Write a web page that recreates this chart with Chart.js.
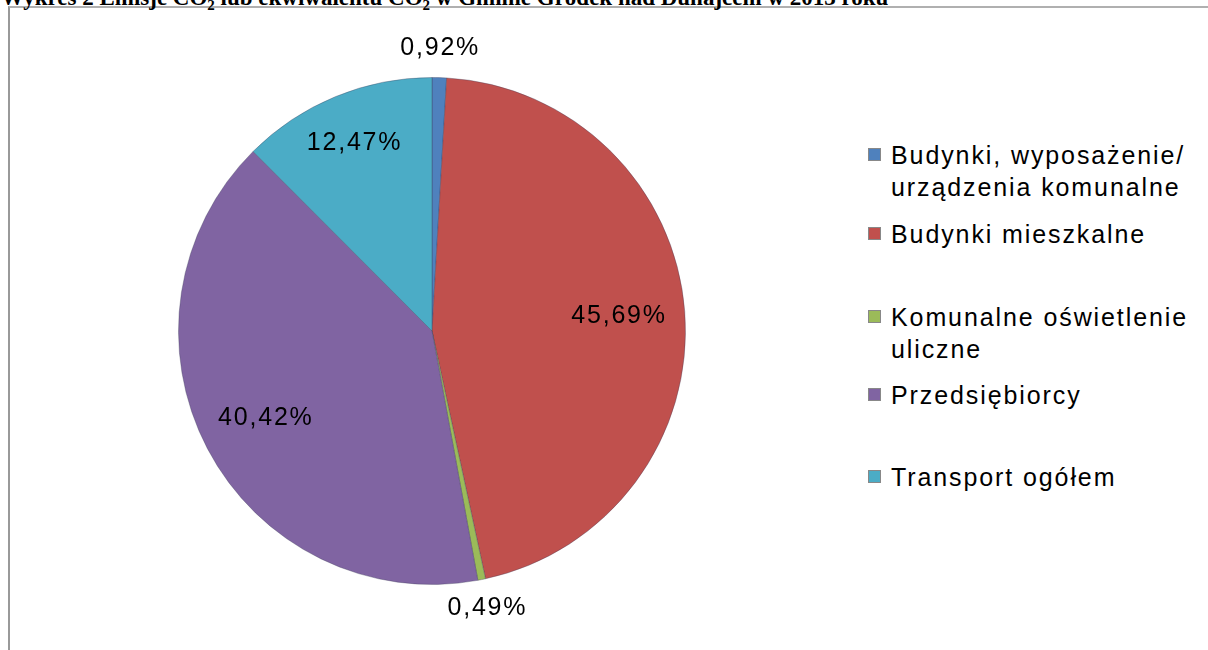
<!DOCTYPE html>
<html>
<head>
<meta charset="utf-8">
<script src="https://cdn.jsdelivr.net/npm/chart.js@4/dist/chart.umd.min.js"></script>
<style>
  body { margin: 0; background: #fff; width: 1208px; height: 650px; overflow: hidden; position: relative; }
  #title { position: absolute; left: 1px; top: -14px; font: bold 23px "Liberation Serif", "DejaVu Serif", serif; line-height: 23px; color: #000; white-space: nowrap; }
  #title sub { font-size: 15px; line-height: 0; vertical-align: -0.3em; }
  #frame { position: absolute; left: 8px; top: 6px; width: 1210px; height: 660px; border-top: 2px solid #b0b0b0; border-left: 2px solid #999; background: #fff; }
  #wrap { position: absolute; left: 132px; top: 31px; width: 600px; height: 600px; }
  #legend { position: absolute; left: 0; top: 0; font: 25px "Liberation Sans", Arial, sans-serif; color: #000; }
  .item { position: absolute; left: 891px; line-height: 32px; white-space: nowrap; letter-spacing: 1.9px; }
  .sq { position: absolute; left: -23px; top: 9px; width: 11px; height: 11px; border: 1px solid #888; box-sizing: content-box; }
</style>
</head>
<body>
<div id="frame"></div>
<div id="title">Wykres 2 Emisje CO<sub>2</sub> lub ekwiwalentu CO<sub>2</sub> w Gminie Gródek nad Dunajcem w 2013 roku</div>
<div id="wrap"><canvas id="pie"></canvas></div>
<div id="legend"></div>
<script>
// Emisje CO2 wg sektorów (%)
var categories = [
  ["Budynki, wyposażenie/", "urządzenia komunalne"],
  ["Budynki mieszkalne"],
  ["Komunalne oświetlenie", "uliczne"],
  ["Przedsiębiorcy"],
  ["Transport ogółem"]
];
var shares = [0.92, 45.69, 0.49, 40.42, 12.47];
var shareLabels = ["0,92%", "45,69%", "0,49%", "40,42%", "12,47%"];
var colors = ["#4f81bd", "#c0504d", "#9bbb59", "#8064a2", "#4bacc6"];
var legendTops = [139, 218, 301, 379, 461];

// percentage labels: small slices outside, big ones inside
var sliceLabels = {
  id: 'sliceLabels',
  afterDatasetsDraw: function (chart) {
    var ctx = chart.ctx;
    var meta = chart.getDatasetMeta(0);
    ctx.save();
    ctx.font = '25px "Liberation Sans", Arial, sans-serif';
    ctx.letterSpacing = '1.8px';
    ctx.fillStyle = '#000';
    ctx.textAlign = 'center';
    ctx.textBaseline = 'middle';
    meta.data.forEach(function (arc, i) {
      var p = arc.getProps(['x', 'y', 'startAngle', 'endAngle', 'outerRadius'], true);
      var mid = (p.startAngle + p.endAngle) / 2;
      var f = shares[i] < 2 ? 1.115 : (i === 4 ? 0.8 : 0.74);
      var r = p.outerRadius * f;
      ctx.fillText(shareLabels[i], p.x + Math.cos(mid) * r, p.y + Math.sin(mid) * r);
    });
    ctx.restore();
  }
};

new Chart(document.getElementById('pie'), {
  type: 'pie',
  data: {
    labels: categories.map(function (c) { return c.join(' '); }),
    datasets: [{
      data: shares,
      backgroundColor: colors,
      borderColor: 'rgba(60,60,90,0.35)',
      borderWidth: 1
    }]
  },
  options: {
    responsive: true,
    maintainAspectRatio: false,
    animation: false,
    layout: { padding: 46 },
    plugins: {
      legend: { display: false },
      tooltip: { enabled: false }
    }
  },
  plugins: [sliceLabels]
});

// legend on the right
var legend = document.getElementById('legend');
categories.forEach(function (lines, i) {
  var div = document.createElement('div');
  div.className = 'item';
  div.style.top = legendTops[i] + 'px';
  var sq = document.createElement('span');
  sq.className = 'sq';
  sq.style.background = colors[i];
  div.appendChild(sq);
  div.appendChild(document.createTextNode(lines[0]));
  for (var k = 1; k < lines.length; k++) {
    div.appendChild(document.createElement('br'));
    div.appendChild(document.createTextNode(lines[k]));
  }
  legend.appendChild(div);
});
</script>
</body>
</html>
